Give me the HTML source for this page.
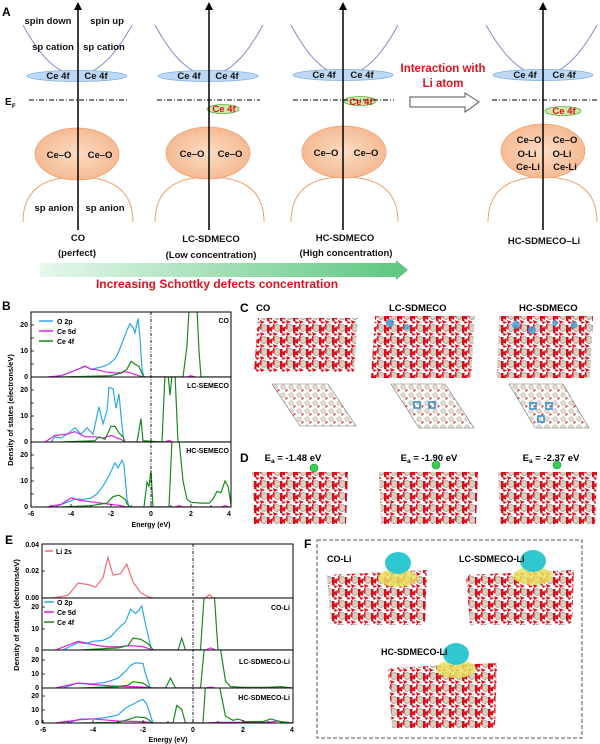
<!DOCTYPE html>
<html><head><meta charset="utf-8"><style>
html,body{margin:0;padding:0;background:#fff}
svg{display:block;font-family:"Liberation Sans",sans-serif;font-weight:bold}
</style></head><body>
<svg width="600" height="744" viewBox="0 0 600 744" xmlns="http://www.w3.org/2000/svg">
<defs>
<marker id="ah" markerWidth="8" markerHeight="8" refX="4" refY="4" orient="auto" markerUnits="userSpaceOnUse"><path d="M0,0 L8,4 L0,8 Z" fill="#000"/></marker>
<linearGradient id="ga" x1="0" x2="1"><stop offset="0" stop-color="#e6f7ec"/><stop offset="1" stop-color="#5cc77f"/></linearGradient>
<radialGradient id="og" cx="0.5" cy="0.5" r="0.6"><stop offset="0" stop-color="#fbdcc4"/><stop offset="1" stop-color="#f4b48a"/></radialGradient>
<pattern id="mol" width="13" height="12" patternUnits="userSpaceOnUse">
<rect width="13" height="12" fill="#fff"/>
<circle cx="4" cy="4" r="3.4" fill="#d8d0c2" stroke="#8a8070" stroke-width="0.6"/>
<path d="M7,5 l6,-3 l-1,6 z M8,9 l5,1 l-3,2 z M0,8 l5,2 l-4,2z" fill="#e0101c"/>
<rect x="7" y="1" width="2.5" height="8" fill="#d0101c"/>
<rect x="0" y="0" width="1.5" height="5" fill="#e0202a"/>
</pattern>
<pattern id="top" width="8" height="8" patternUnits="userSpaceOnUse">
<rect width="8" height="8" fill="#fff"/>
<circle cx="3" cy="3" r="2.2" fill="#e4ddd0" stroke="#a09888" stroke-width="0.5"/>
<path d="M5.5,5 l2.5,1 l-2.5,2z" fill="#d82030"/>
</pattern>
<clipPath id="cb1"><rect x="31" y="312" width="200" height="65"/></clipPath>
<clipPath id="cb2"><rect x="31" y="377" width="200" height="65"/></clipPath>
<clipPath id="cb3"><rect x="31" y="442" width="200" height="65"/></clipPath>
<clipPath id="ce1"><rect x="42" y="544" width="251" height="54"/></clipPath>
<clipPath id="ce2"><rect x="42" y="598" width="251" height="52"/></clipPath>
<clipPath id="ce3"><rect x="42" y="650" width="251" height="38"/></clipPath>
<clipPath id="ce4"><rect x="42" y="688" width="251" height="35"/></clipPath>
</defs>

<!-- Panel A -->
<text x="2" y="16" font-size="12">A</text>
<g fill="none" stroke="#8090c8" stroke-width="1">
<path d="M23,25 Q77,125 132,25"/><path d="M155,25 Q209,125 263,25"/><path d="M291,25 Q344,125 398,25"/><path d="M486,25 Q542,125 597,25"/>
</g>
<g fill="none" stroke="#eea070" stroke-width="1">
<path d="M23,222 Q23,177 77,177 Q133,177 133,222"/><path d="M155,222 Q155,177 209,177 Q264,177 264,222"/><path d="M291,222 Q291,177 344,177 Q398,177 398,222"/><path d="M488,222 Q488,177 543,177 Q597,177 597,222"/>
</g>
<g fill="#bcd8f4" stroke="#7ab0e0" stroke-width="0.8">
<ellipse cx="77" cy="76" rx="50" ry="5.5"/><ellipse cx="208" cy="76" rx="50" ry="5.5"/><ellipse cx="343" cy="75" rx="50" ry="5.5"/><ellipse cx="543" cy="75" rx="50" ry="5.5"/>
</g>
<g fill="url(#og)" stroke="#eea070" stroke-width="0.8">
<ellipse cx="77" cy="154" rx="42" ry="26"/><ellipse cx="208" cy="153" rx="42" ry="26"/><ellipse cx="344" cy="152" rx="42" ry="26"/><ellipse cx="543" cy="151" rx="42" ry="27"/>
</g>
<g fill="#cfe9a8" stroke="#60b040" stroke-width="0.8">
<ellipse cx="223" cy="109" rx="16" ry="4.5"/><ellipse cx="360" cy="101" rx="16" ry="4.5"/><ellipse cx="563" cy="111" rx="18" ry="4.5"/>
</g>
<g stroke="#000" stroke-width="0.9" stroke-dasharray="5,2,1,2">
<line x1="29" y1="100" x2="128" y2="100"/><line x1="157" y1="100" x2="260" y2="100"/><line x1="293" y1="100" x2="394" y2="100"/><line x1="492" y1="100" x2="597" y2="100"/>
</g>
<g stroke="#000" stroke-width="1.5" marker-end="url(#ah)">
<line x1="78" y1="230" x2="78" y2="6"/><line x1="209" y1="230" x2="209" y2="6"/><line x1="343" y1="230" x2="343" y2="6"/><line x1="543" y1="230" x2="543" y2="6"/>
</g>
<g font-size="9.5" text-anchor="middle" fill="#111">
<text x="48" y="24">spin down</text><text x="107" y="24">spin up</text>
<text x="53" y="50">sp cation</text><text x="104" y="50">sp cation</text>
<text x="58" y="79">Ce 4f</text><text x="96" y="79">Ce 4f</text>
<text x="189" y="79">Ce 4f</text><text x="227" y="79">Ce 4f</text>
<text x="324" y="78">Ce 4f</text><text x="362" y="78">Ce 4f</text>
<text x="525" y="78">Ce 4f</text><text x="564" y="78">Ce 4f</text>
<text x="59" y="158">Ce–O</text><text x="100" y="158">Ce–O</text>
<text x="192" y="157">Ce–O</text><text x="230" y="157">Ce–O</text>
<text x="326" y="156">Ce–O</text><text x="366" y="156">Ce–O</text>
<text x="529" y="143">Ce–O</text><text x="565" y="143">Ce–O</text>
<text x="527" y="157">O-Li</text><text x="562" y="157">O-Li</text>
<text x="528" y="170">Ce-Li</text><text x="565" y="170">Ce-Li</text>
<text x="54" y="211">sp anion</text><text x="105" y="211">sp anion</text>
<text x="78" y="241">CO</text><text x="77" y="256">(perfect)</text>
<text x="211" y="242">LC-SDMECO</text><text x="211" y="258">(Low concentration)</text>
<text x="345" y="241">HC-SDMECO</text><text x="346" y="256">(High concentration)</text>
<text x="544" y="244">HC-SDMECO–Li</text>
</g>
<g font-size="9.5" text-anchor="middle" fill="#e01020">
<text x="224" y="112">Ce 4f</text><text x="361" y="105">Ce 4f</text><text x="564" y="114">Ce 4f</text>
</g>
<text x="5" y="105" font-size="10">E</text><text x="12" y="108" font-size="6">F</text>
<text x="443" y="72" font-size="11.5" fill="#e01020" text-anchor="middle">Interaction with</text>
<text x="443" y="87" font-size="11.5" fill="#e01020" text-anchor="middle">Li atom</text>
<path d="M410,97 L465,97 L465,93 L479,102 L465,112 L465,107 L410,107 Z" fill="#fff" stroke="#555" stroke-width="1"/>
<path d="M40,263 L396,263 L396,260 L408,270 L396,280 L396,277 L40,277 Z" fill="url(#ga)"/>
<text x="217" y="288" font-size="12" fill="#e01020" text-anchor="middle">Increasing Schottky defects concentration</text>

<!-- Panel B -->
<text x="2" y="310" font-size="12">B</text>
<g fill="none" stroke-width="1.2">
<g clip-path="url(#cb1)"><g transform="translate(151,377) scale(20,-2.6)">
<polyline vector-effect="non-scaling-stroke" stroke="#2aa8ea" points="-4.8,0 -4.3,1 -3.8,2.5 -3.3,4 -3,3 -2.7,3.5 -2.4,4 -2.1,5 -1.8,7 -1.6,10 -1.4,14 -1.2,18 -1.05,20.5 -0.9,19 -0.8,17 -0.65,22.5 -0.55,15 -0.45,3 -0.35,0"/>
<polyline vector-effect="non-scaling-stroke" stroke="#e020e0" points="-5.2,0 -4.5,0.5 -3.8,2.5 -3.3,4.2 -3,3 -2.7,2.8 -2.3,2 -1.8,1.5 -1.2,2 -0.8,1 -0.4,0 1.8,0 2,0.5 2.2,0"/>
<polyline vector-effect="non-scaling-stroke" stroke="#1a8a1a" points="-4.5,0 -2,0.5 -1.5,1.5 -1.2,3 -1,6 -0.8,5 -0.6,4 -0.4,0.5 -0.3,0 1.6,0 1.8,12 1.9,26 2.3,26 2.4,10 2.5,0 4,0"/>
</g></g>
<g clip-path="url(#cb2)"><g transform="translate(151,442) scale(20,-2.6)">
<polyline vector-effect="non-scaling-stroke" stroke="#2aa8ea" points="-5,0 -4.8,2 -4.5,1.5 -4.2,3 -3.8,5.5 -3.5,3 -3.2,5.5 -2.9,3 -2.6,13.5 -2.4,7 -2.2,12 -2.1,21 -1.9,20.5 -1.75,13 -1.6,18.5 -1.5,10 -1.4,3 -1.35,0"/>
<polyline vector-effect="non-scaling-stroke" stroke="#e020e0" points="-5.3,0 -4.8,2.5 -4.2,3 -3.8,4 -3.3,2 -2.8,2 -2.4,1.5 -2,2.5 -1.5,1 -1.3,0 0.7,0 0.9,0.6 1.1,0"/>
<polyline vector-effect="non-scaling-stroke" stroke="#1a8a1a" points="-4.5,0 -2.8,0.5 -2.6,2 -2.3,1 -2,6 -1.8,6 -1.6,3.5 -1.4,2 -1.3,0 -0.7,0 -0.5,9 -0.4,0.5 0.55,0 0.7,26 0.85,26 0.95,18 1.05,26 1.2,26 1.35,0 4,0"/>
</g></g>
<g clip-path="url(#cb3)"><g transform="translate(151,507) scale(20,-2.6)">
<polyline vector-effect="non-scaling-stroke" stroke="#2aa8ea" points="-4.8,0 -4.3,1.5 -3.8,3 -3.3,3 -3,3.5 -2.7,5 -2.4,8 -2.1,12 -1.8,17 -1.65,15 -1.45,18 -1.35,16 -1.2,3 -1.1,0"/>
<polyline vector-effect="non-scaling-stroke" stroke="#e020e0" points="-5.2,0 -4.5,1 -4,3.5 -3.5,2.5 -3,2 -2.5,1.5 -2,1 -1.5,0.5 -1.2,0 1.2,0 1.4,0.5 1.6,0 3.5,0 3.7,0.5 3.9,0"/>
<polyline vector-effect="non-scaling-stroke" stroke="#1a8a1a" points="-4.5,0 -3,0.5 -2.2,1.5 -1.9,4 -1.6,4.5 -1.3,3 -1.1,0 -0.35,0 -0.2,9.5 -0.1,8 0,14 0.1,0 0.9,0 1.05,26 1.4,26 1.6,10 1.8,3 2,1.8 2.5,1.5 2.9,1.5 3.1,3 3.3,6 3.5,5.5 3.7,10 3.85,8 4,1"/>
</g></g>
</g>
<g stroke="#000" stroke-width="0.9" stroke-dasharray="3,1.5,1,1.5"><line x1="151" y1="312" x2="151" y2="507"/></g>
<g fill="none" stroke="#000" stroke-width="1"><rect x="31" y="312" width="200" height="195"/><line x1="31" y1="377" x2="231" y2="377"/><line x1="31" y1="442" x2="231" y2="442"/></g>
<g stroke="#000" stroke-width="0.8">
<path d="M31,377h3M31,364h3M31,351h3M31,338h3M31,325h3M31,442h3M31,429h3M31,416h3M31,403h3M31,390h3M31,507h3M31,494h3M31,481h3M31,468h3M31,455h3"/>
<path d="M31,507v-3M51,507v-2M71,507v-3M91,507v-2M111,507v-3M131,507v-2M151,507v-3M171,507v-2M191,507v-3M211,507v-2"/>
</g>
<g font-size="7" text-anchor="end">
<text x="28" y="379">0</text><text x="28" y="353">10</text><text x="28" y="327">20</text>
<text x="28" y="444">0</text><text x="28" y="418">10</text><text x="28" y="392">20</text>
<text x="28" y="509">0</text><text x="28" y="483">10</text><text x="28" y="457">20</text>
</g>
<g font-size="7" text-anchor="middle">
<text x="31" y="516">-6</text><text x="71" y="516">-4</text><text x="111" y="516">-2</text><text x="151" y="516">0</text><text x="191" y="516">2</text><text x="229" y="516">4</text>
<text x="151" y="527">Energy (eV)</text>
</g>
<text transform="translate(13,410) rotate(-90)" font-size="7.5" text-anchor="middle">Density of states (electrons/eV)</text>
<g stroke-width="1.5"><line x1="39" y1="321" x2="53" y2="321" stroke="#2aa8ea"/><line x1="39" y1="331" x2="53" y2="331" stroke="#e020e0"/><line x1="39" y1="341" x2="53" y2="341" stroke="#1a8a1a"/></g>
<g font-size="7"><text x="57" y="324">O 2p</text><text x="57" y="334">Ce 5d</text><text x="57" y="344">Ce 4f</text></g>
<g font-size="7" text-anchor="end"><text x="229" y="323">CO</text><text x="229" y="388">LC-SEMECO</text><text x="229" y="453">HC-SEMECO</text></g>

<!-- Panel C -->
<text x="240" y="312" font-size="12">C</text>
<g font-size="9.5"><text x="256" y="311">CO</text><text x="389" y="311">LC-SDMECO</text><text x="519" y="311">HC-SDMECO</text></g>
<g fill="url(#mol)">
<polygon points="258,318 358,318 354,372 254,372"/>
<polygon points="375,316 475,316 471,378 371,378"/>
<polygon points="499,316 593,316 590,378 497,378"/>
</g>
<g fill="#4aa0d8" opacity="0.85"><circle cx="390" cy="323" r="4"/><circle cx="407" cy="327" r="3"/><circle cx="516" cy="325" r="4"/><circle cx="532" cy="330" r="4"/><circle cx="555" cy="323" r="3"/><circle cx="574" cy="325" r="3.5"/></g>
<g fill="url(#top)" stroke="#777" stroke-width="0.6">
<polygon points="272,384 328,384 356,426 300,426"/>
<polygon points="391,384 445,384 474,428 419,428"/>
<polygon points="509,384 563,384 589,428 535,428"/>
</g>
<g fill="none" stroke="#3a90d0" stroke-width="1.6"><rect x="414" y="402" width="6" height="6"/><rect x="429" y="402" width="6" height="6"/><rect x="530" y="403" width="6" height="6"/><rect x="546" y="403" width="6" height="6"/><rect x="538" y="416" width="6" height="6"/></g>

<!-- Panel D -->
<text x="240" y="462" font-size="12">D</text>
<g font-size="9.5" text-anchor="middle">
<text x="293" y="461">E<tspan font-size="6.5" dy="2">a</tspan><tspan dy="-2"> = -1.48 eV</tspan></text>
<text x="429" y="461">E<tspan font-size="6.5" dy="2">a</tspan><tspan dy="-2"> = -1.90 eV</tspan></text>
<text x="551" y="461">E<tspan font-size="6.5" dy="2">a</tspan><tspan dy="-2"> = -2.37 eV</tspan></text>
</g>
<g fill="url(#mol)">
<polygon points="252,472 348,472 346,524 254,524"/>
<polygon points="379,472 478,472 476,524 381,524"/>
<polygon points="498,472 597,472 595,524 500,524"/>
</g>
<g fill="#38d050" stroke="#1a9030" stroke-width="0.6"><circle cx="314" cy="468" r="4"/><circle cx="436" cy="465" r="4"/><circle cx="557" cy="465" r="4"/></g>

<!-- Panel E -->
<text x="5" y="544" font-size="12">E</text>
<g fill="none" stroke-width="1.2">
<g clip-path="url(#ce1)"><g transform="translate(193,598) scale(25,-1350)">
<polyline vector-effect="non-scaling-stroke" stroke="#f06a74" points="-6,0 -5.6,0 -5,0.002 -4.6,0.011 -4.2,0.01 -3.9,0.008 -3.6,0.015 -3.4,0.03 -3.2,0.017 -2.9,0.018 -2.65,0.025 -2.4,0.012 -2.1,0.004 -1.8,0.001 -1.6,0 0.5,0 0.65,0.0025 0.8,0 4,0"/>
</g></g>
<g clip-path="url(#ce2)"><g transform="translate(193,650) scale(25,-2.15)">
<polyline vector-effect="non-scaling-stroke" stroke="#2aa8ea" points="-5.2,0 -4.6,3.5 -4.3,3 -4,4 -3.6,4.5 -3.3,6 -3,10 -2.7,13 -2.5,19 -2.3,17 -2.2,18 -2.05,20.5 -1.9,12 -1.7,2 -1.6,0"/>
<polyline vector-effect="non-scaling-stroke" stroke="#e020e0" points="-5.5,0 -4.6,4 -4,2.5 -3.5,1.5 -3,1.5 -2.5,2 -2,1.5 -1.6,0 0.5,0 0.7,1 0.9,0"/>
<polyline vector-effect="non-scaling-stroke" stroke="#1a8a1a" points="-4.5,0 -3,1 -2.6,2 -2.4,5.5 -2.1,5 -1.8,3 -1.6,0 -0.6,0 -0.45,5.5 -0.3,0 0.3,0 0.45,26 0.85,26 1,0 4,0"/>
</g></g>
<g clip-path="url(#ce3)"><g transform="translate(193,688) scale(25,-1.4)">
<polyline vector-effect="non-scaling-stroke" stroke="#2aa8ea" points="-5.2,0 -4.6,3.5 -4,3 -3.5,4 -3,7 -2.7,12 -2.5,16 -2.3,18 -2,17.5 -1.9,10 -1.7,0"/>
<polyline vector-effect="non-scaling-stroke" stroke="#e020e0" points="-5.5,0 -4.6,3.5 -4,2.5 -3.3,1.5 -2.5,1 -1.8,0.5 -1.6,0 0.5,0 0.7,0.6 0.9,0"/>
<polyline vector-effect="non-scaling-stroke" stroke="#1a8a1a" points="-4.5,0 -3,1 -2.6,2 -2.4,4.5 -2,3.5 -1.7,0 -1.1,0 -0.9,7 -0.7,0 0.3,0 0.45,28 1.1,28 1.3,5 1.5,1 2,0.5 3,0.5 3.5,1 4,0"/>
</g></g>
<g clip-path="url(#ce4)"><g transform="translate(193,723) scale(25,-1.35)">
<polyline vector-effect="non-scaling-stroke" stroke="#2aa8ea" points="-5,0 -4.5,3 -4,3 -3.5,4 -3,6 -2.7,11 -2.4,14 -2.2,16 -2,17.5 -1.85,14 -1.6,0"/>
<polyline vector-effect="non-scaling-stroke" stroke="#e020e0" points="-5.5,0 -4.5,2.5 -4,3 -3,1.5 -2,1 -1.6,0 0.5,0 1,0.5 3,0.5 3.4,1.5 3.8,0"/>
<polyline vector-effect="non-scaling-stroke" stroke="#1a8a1a" points="-4.5,0 -3,0.5 -2.5,3 -2.3,4.5 -1.9,4 -1.6,0 -0.8,0 -0.65,13 -0.45,10 -0.3,0 0.4,0 0.5,28 1.05,28 1.3,5 1.6,2 1.8,3 2.1,1 2.8,1 3.1,3 3.5,1 4,0"/>
</g></g>
</g>
<g stroke="#000" stroke-width="0.9" stroke-dasharray="3,1.5,1,1.5"><line x1="193" y1="544" x2="193" y2="723"/></g>
<g fill="none" stroke="#000" stroke-width="1"><rect x="42" y="544" width="251" height="179"/><line x1="42" y1="598" x2="293" y2="598"/><line x1="42" y1="650" x2="293" y2="650"/><line x1="42" y1="688" x2="293" y2="688"/></g>
<g stroke="#000" stroke-width="0.8">
<path d="M42,571h3M42,544h3M42,629h3M42,607h3M42,674h3M42,660h3M42,710h3M42,696h3"/>
<path d="M43,723v-3M93,723v-3M143,723v-3M193,723v-3M243,723v-3M68,723v-2M118,723v-2M168,723v-2M218,723v-2M268,723v-2"/>
</g>
<g font-size="7" text-anchor="end">
<text x="39" y="600">0.00</text><text x="39" y="573">0.02</text><text x="39" y="547">0.04</text>
<text x="39" y="652">0</text><text x="39" y="631">10</text><text x="39" y="609">20</text>
<text x="39" y="690">0</text><text x="39" y="676">10</text><text x="39" y="662">20</text>
<text x="39" y="725">0</text><text x="39" y="712">10</text><text x="39" y="698">20</text>
</g>
<g font-size="7" text-anchor="middle">
<text x="43" y="732">-6</text><text x="93" y="732">-4</text><text x="143" y="732">-2</text><text x="193" y="732">0</text><text x="243" y="732">2</text><text x="292" y="732">4</text>
<text x="168" y="742">Energy (eV)</text>
</g>
<text transform="translate(19,615) rotate(-90)" font-size="7.5" text-anchor="middle">Density of states (electrons/eV)</text>
<line x1="45" y1="551" x2="53" y2="551" stroke="#f06a74" stroke-width="1.5"/>
<text x="56" y="554" font-size="7">Li 2s</text>
<g stroke-width="1.5"><line x1="44" y1="602" x2="54" y2="602" stroke="#2aa8ea"/><line x1="44" y1="612" x2="54" y2="612" stroke="#e020e0"/><line x1="44" y1="622" x2="54" y2="622" stroke="#1a8a1a"/></g>
<g font-size="7"><text x="57" y="605">O 2p</text><text x="57" y="615">Ce 5d</text><text x="57" y="625">Ce 4f</text></g>
<g font-size="7" text-anchor="end"><text x="290" y="610">CO-Li</text><text x="290" y="664">LC-SDMECO-Li</text><text x="290" y="700">HC-SDMECO-Li</text></g>

<!-- Panel F -->
<text x="304" y="548" font-size="12">F</text>
<rect x="317" y="540" width="265" height="198" fill="none" stroke="#555" stroke-width="1" stroke-dasharray="4,2"/>
<g fill="url(#mol)">
<polygon points="327,575 427,570 425,625 331,625"/>
<polygon points="466,575 574,570 572,625 470,625"/>
<polygon points="388,668 497,663 495,728 392,728"/>
</g>
<g>
<ellipse cx="398" cy="578" rx="20" ry="9" fill="#e8e060" opacity="0.85"/>
<ellipse cx="398" cy="563" rx="13" ry="11" fill="#30c8d0"/>
<ellipse cx="533" cy="576" rx="20" ry="9" fill="#e8e060" opacity="0.85"/>
<ellipse cx="533" cy="561" rx="13" ry="11" fill="#30c8d0"/>
<ellipse cx="456" cy="669" rx="20" ry="9" fill="#e8e060" opacity="0.85"/>
<ellipse cx="456" cy="654" rx="13" ry="11" fill="#30c8d0"/>
</g>
<g font-size="9"><text x="327" y="562">CO-Li</text><text x="459" y="562">LC-SDMECO-Li</text><text x="381" y="655">HC-SDMECO-Li</text></g>
</svg>
</body></html>
